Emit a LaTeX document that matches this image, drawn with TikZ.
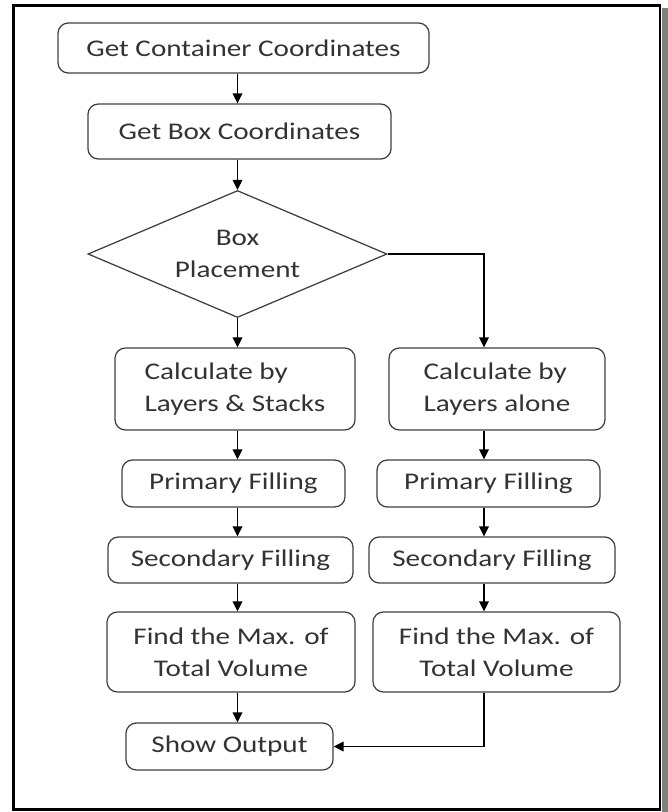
\documentclass[tikz,border=0pt]{standalone}
\usepackage{fontspec}
\setmainfont[FakeStretch=1.22]{Carlito}
\usetikzlibrary{shapes.geometric,arrows.meta}

\begin{document}
\begin{tikzpicture}[x=0.025cm,y=-0.025cm]
\tikzstyle{arrow} = [line width=1.3pt, -{Triangle[length=2.5mm,width=2.4mm]}, black]
\tikzstyle{stepbox} = [rectangle, rounded corners=2.6mm, draw=black!75, line width=0.9pt, text=black!80, font=\fontsize{17}{22.5}\selectfont, inner sep=0pt, align=center]
\tikzstyle{choice} = [diamond, aspect=2.35, draw=black!75, line width=0.9pt, text=black!80, font=\fontsize{17}{22.5}\selectfont, inner sep=0pt, align=center, minimum width=7.475cm, minimum height=3.175cm]
\useasboundingbox (0,0) rectangle (668,812);
% frame with shadow
\fill[black!50] (662,8) rectangle (668,812);
\draw[line width=2.1pt] (13.5,5.5) rectangle (660,809.5);
% steps
\node[stepbox, minimum width=9.275cm, minimum height=1.25cm](container) at (243.5,48){Get Container Coordinates};
\node[stepbox, minimum width=7.575cm, minimum height=1.375cm](boxcoord) at (239.5,131.5){Get Box Coordinates};
\node[choice](placement) at (237.5,254){Box\\Placement};
\coordinate (colR) at (484,254);
\node[stepbox, align=left, minimum width=6cm, minimum height=2.05cm](calcLS) at (235,389){Calculate by\\Layers \& Stacks};
\node[stepbox, align=left, minimum width=5.4cm, minimum height=2.05cm](calcL) at (497,389){Calculate by\\Layers alone};
\node[stepbox, minimum width=5.575cm, minimum height=1.175cm](primL) at (233.5,483.5){Primary Filling};
\node[stepbox, minimum width=5.575cm, minimum height=1.175cm](primR) at (488.5,483.5){Primary Filling};
\node[stepbox, minimum width=6.125cm, minimum height=1.15cm](secL) at (230.5,560){Secondary Filling};
\node[stepbox, minimum width=6.15cm, minimum height=1.15cm](secR) at (492,560){Secondary Filling};
\node[stepbox, minimum width=6.2cm, minimum height=2cm](findL) at (231,652){Find the Max. of\\Total Volume};
\node[stepbox, minimum width=6.175cm, minimum height=2cm](findR) at (496.5,652){Find the Max. of\\Total Volume};
\node[stepbox, minimum width=5.175cm, minimum height=1.175cm](output) at (229.5,746.5){Show Output};
% left column
\draw[arrow] (container.south -| placement) -- (boxcoord.north -| placement);
\draw[arrow] (boxcoord.south -| placement) -- (placement.north);
\draw[arrow] (placement.south) -- (calcLS.north -| placement);
\draw[arrow] (calcLS.south -| placement) -- (primL.north -| placement);
\draw[arrow] (primL.south -| placement) -- (secL.north -| placement);
\draw[arrow] (secL.south -| placement) -- (findL.north -| placement);
\draw[arrow] (findL.south -| placement) -- (output.north -| placement);
% right column
\draw[arrow] (placement.east) -- (colR) -- (calcL.north -| colR);
\draw[arrow] (calcL.south -| colR) -- (primR.north -| colR);
\draw[arrow] (primR.south -| colR) -- (secR.north -| colR);
\draw[arrow] (secR.south -| colR) -- (findR.north -| colR);
\draw[arrow] (findR.south -| colR) |- (output.east);
\end{tikzpicture}
\end{document}
